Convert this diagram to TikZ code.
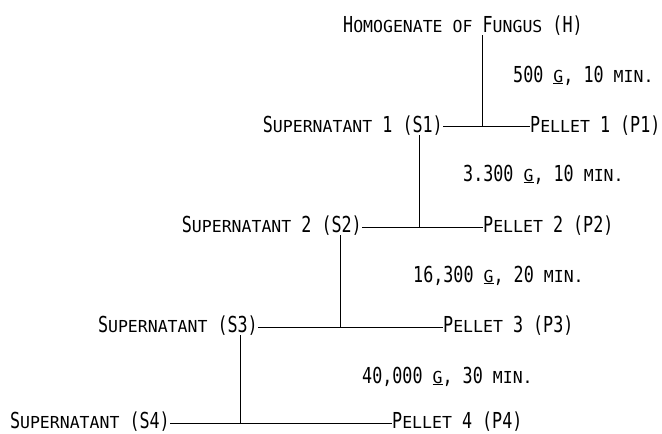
\documentclass[tikz,border=0pt]{standalone}
\usepackage{fontspec}
\newfontfamily\mainfam[FakeStretch=0.76]{DejaVu Sans Mono}
\newfontfamily\scfam{DejaVu Sans Mono}
\newcommand\bigf{\mainfam\fontsize{22}{24}\selectfont}
\newcommand\sct[1]{{\scfam\fontsize{16.5}{18}\selectfont #1}}
\newcommand\ug{\underline{\sct{G}}}
\begin{document}
\begin{tikzpicture}[x=1pt,y=-1pt,
  lbl/.style={inner sep=0pt,font=\bigf},
  conn/.style={line width=0.8pt}]
\useasboundingbox (0,0) rectangle (662,434);
% nodes
\node[lbl,anchor=base west] (H) at (343,32) {H\sct{OMOGENATE} \sct{OF} F\sct{UNGUS} (H)};
\node[lbl,anchor=base west] (L1) at (513,82) {500 \ug, 10 \sct{MIN.}};
\node[lbl,anchor=base east] (S1) at (443,132) {S\sct{UPERNATANT} 1 (S1)};
\node[lbl,anchor=base west] (P1) at (530,132) {P\sct{ELLET} 1 (P1)};
\node[lbl,anchor=base west] (L2) at (463,181) {3.300 \ug, 10 \sct{MIN.}};
\node[lbl,anchor=base east] (S2) at (362,232) {S\sct{UPERNATANT} 2 (S2)};
\node[lbl,anchor=base west] (P2) at (483,232) {P\sct{ELLET} 2 (P2)};
\node[lbl,anchor=base west] (L3) at (413,282) {16,300 \ug, 20 \sct{MIN.}};
\node[lbl,anchor=base east] (S3) at (258,332) {S\sct{UPERNATANT} (S3)};
\node[lbl,anchor=base west] (P3) at (443,332) {P\sct{ELLET} 3 (P3)};
\node[lbl,anchor=base west] (L4) at (362,383) {40,000 \ug, 30 \sct{MIN.}};
\node[lbl,anchor=base east] (S4) at (170,428) {S\sct{UPERNATANT} (S4)};
\node[lbl,anchor=base west] (P4) at (392,428) {P\sct{ELLET} 4 (P4)};
% junctions
\coordinate (j1) at (482,126);
\coordinate (j2) at (419,227);
\coordinate (j3) at (340,327);
\coordinate (j4) at (240,423);
% connectors
\draw[conn] (H.south -| j1) -- (j1);
\draw[conn] (S1.east |- j1) -- (P1.west |- j1);
\draw[conn] (S1.south -| j2) -- (j2);
\draw[conn] (S2.east |- j2) -- (P2.west |- j2);
\draw[conn] (S2.south -| j3) -- (j3);
\draw[conn] (S3.east |- j3) -- (P3.west |- j3);
\draw[conn] (S3.south -| j4) -- (j4);
\draw[conn] (S4.east |- j4) -- (P4.west |- j4);
\end{tikzpicture}
\end{document}
